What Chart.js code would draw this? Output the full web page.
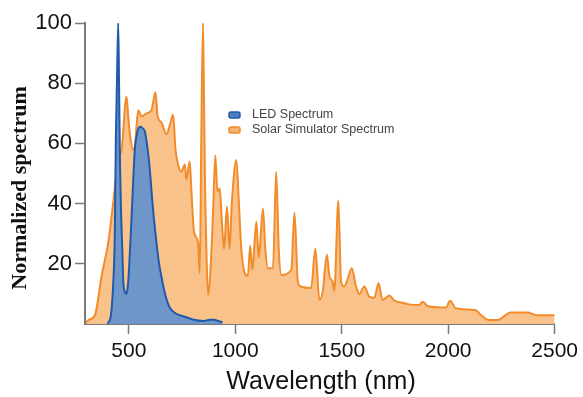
<!DOCTYPE html>
<html lang="en">
<head>
  <meta charset="UTF-8">
  <title>LED vs Solar Simulator Spectrum</title>
  <style>
    body {
      margin: 0;
      padding: 0;
      background-color: #fff;
    }
    .chart-box {
      width: 583px;
      height: 397px;
    }
  </style>
</head>
<body>
  <div class="chart-box">
    <canvas id="spectrumChart" width="583" height="397"></canvas>
  </div>

  <script src="https://cdn.jsdelivr.net/npm/chart.js"></script>
  <script>
    // LED spectrum (wavelength in nm, normalized value)
    const ledWl  = [400, 406, 416, 427, 434, 439, 444, 450, 454, 458, 463, 469, 474, 480, 489, 497, 505, 513, 520, 528, 535, 545, 555, 565, 575, 590, 600, 610, 625, 640, 655, 670, 692, 720, 760, 800, 850, 880, 900, 920, 940];
    const ledVal = [0, 0.8, 3, 14, 30, 62, 80, 100, 80, 55, 38, 25, 14, 11, 10, 14, 24, 36, 47, 58, 62, 65, 65.5, 65, 64, 57, 50, 41, 30, 21, 15, 10, 5.5, 3.5, 2.5, 1.5, 1, 1.4, 1.4, 1, 0.6];

    // Solar simulator spectrum
    const solarWl  = [300, 310, 341, 372, 403, 427, 450, 466, 489, 497, 505, 520, 528, 544, 560, 583, 606, 625, 635, 653, 677, 692, 708, 719, 731, 747, 763, 770, 786, 794, 806, 825, 833, 840, 848, 853, 858, 864, 872, 880, 895, 906, 916, 927, 937, 947, 961, 973, 984, 1005, 1017, 1028, 1044, 1059, 1070, 1080, 1099, 1110, 1130, 1141, 1153, 1177, 1192, 1204, 1216, 1263, 1278, 1294, 1310, 1356, 1376, 1395, 1411, 1430, 1442, 1457, 1465, 1484, 1497, 1512, 1528, 1547, 1567, 1583, 1606, 1630, 1653, 1673, 1692, 1723, 1747, 1794, 1809, 1864, 1880, 1903, 1989, 2009, 2036, 2130, 2153, 2192, 2231, 2294, 2372, 2418, 2500];
    const solarVal = [0.5, 1.3, 3, 16, 27, 40.6, 55, 58, 75.5, 69, 63, 58, 59, 71, 69, 70, 71, 77, 69, 67, 63, 66, 69.5, 58, 53, 50.6, 53, 48, 54, 44, 30.7, 27, 17, 60, 100, 75, 45, 25, 9.6, 14, 36, 56, 44, 45, 34, 25, 39, 25, 40.6, 54.5, 40, 25, 17, 16, 26, 18, 34, 22, 38.4, 25, 18.5, 18.5, 50.6, 25, 16.3, 18, 37, 14, 12.4, 12, 25, 8, 11, 23, 16, 14, 11, 41, 14, 12.5, 15, 18.5, 12.5, 10, 12.5, 9, 8.7, 13.5, 8, 9.5, 7.8, 6.9, 6.6, 6.3, 7.4, 6, 5.5, 7.7, 5.2, 4.6, 3, 1.3, 1.3, 3.8, 3.8, 2.9, 2.9];

    const xTickValues = [500, 1000, 1500, 2000, 2500];
    const yTickValues = [20, 40, 60, 80, 100];

    const seriesNames = ['LED Spectrum', 'Solar Simulator Spectrum'];

    const toPoints = (xs, ys) => xs.map((x, i) => ({ x: x, y: ys[i] }));

    // colours
    const blueLine = '#1f5aab';
    const blueFill = '#6f96c9';
    const orangeLine = '#f28c2a';
    const orangeFill = '#f9c28b';
    const axisGrey = '#7a7a7a';

    // axis titles and legend drawn by hand so they sit where the figure has them
    const labelsPlugin = {
      id: 'labelsPlugin',
      afterDraw(chart) {
        const c = chart.ctx;
        c.save();
        c.fillStyle = '#111';
        // y title
        c.font = 'bold 22px "Liberation Serif", "Times New Roman", serif';
        c.textAlign = 'center';
        c.textBaseline = 'middle';
        c.translate(20, 188);
        c.rotate(-Math.PI / 2);
        c.fillText('Normalized spectrum', 0, 0);
        c.restore();

        c.save();
        c.fillStyle = '#111';
        c.font = '25px "Liberation Sans", Arial, sans-serif';
        c.textAlign = 'center';
        c.textBaseline = 'alphabetic';
        c.fillText('Wavelength (nm)', 321, 389);

        // legend
        const items = [
          { name: seriesNames[0], line: blueLine, fill: '#4f7fc0', y: 115 },
          { name: seriesNames[1], line: orangeLine, fill: '#f7b070', y: 130 }
        ];
        c.font = '12.5px "Liberation Sans", Arial, sans-serif';
        c.textAlign = 'left';
        c.textBaseline = 'middle';
        items.forEach(it => {
          c.beginPath();
          c.roundRect(229, it.y - 3, 11, 6, 2);
          c.fillStyle = it.fill;
          c.fill();
          c.lineWidth = 1.5;
          c.strokeStyle = it.line;
          c.stroke();
          c.fillStyle = '#444';
          c.fillText(it.name, 252, it.y - 0.5);
        });
        c.restore();
      }
    };

    const ctx = document.getElementById('spectrumChart').getContext('2d');
    new Chart(ctx, {
      type: 'line',
      data: {
        datasets: [
          {
            label: seriesNames[0],
            data: toPoints(ledWl, ledVal),
            borderColor: blueLine,
            backgroundColor: blueFill,
            borderWidth: 2,
            pointRadius: 0,
            cubicInterpolationMode: 'monotone',
            fill: 'origin'
          },
          {
            label: seriesNames[1],
            data: toPoints(solarWl, solarVal),
            borderColor: orangeLine,
            backgroundColor: orangeFill,
            borderWidth: 2,
            pointRadius: 0,
            cubicInterpolationMode: 'monotone',
            fill: 'origin'
          }
        ]
      },
      options: {
        responsive: false,
        animation: false,
        layout: {
          padding: { left: 0, right: 27, top: 23, bottom: 0 }
        },
        plugins: {
          legend: { display: false },
          tooltip: { enabled: false }
        },
        scales: {
          x: {
            type: 'linear',
            min: 294,
            max: 2500,
            afterBuildTicks: (axis) => {
              axis.ticks = xTickValues.map(v => ({ value: v }));
            },
            afterFit: (axis) => { axis.height = 73; },
            border: { color: axisGrey, width: 2 },
            grid: { drawOnChartArea: false, tickLength: 10, tickColor: axisGrey, tickWidth: 1.5 },
            ticks: {
              color: '#111',
              padding: 5,
              maxRotation: 0,
              callback: (v) => String(v),
              font: { family: '"Liberation Sans", Arial, sans-serif', size: 21 }
            }
          },
          y: {
            min: 0,
            max: 100,
            afterBuildTicks: (axis) => {
              axis.ticks = yTickValues.map(v => ({ value: v }));
            },
            afterFit: (axis) => { axis.width = 85; },
            border: { color: axisGrey, width: 2 },
            grid: { drawOnChartArea: false, tickLength: 10, tickColor: axisGrey, tickWidth: 1.5 },
            ticks: {
              color: '#111',
              padding: 3,
              callback: (v) => String(v),
              font: { family: '"Liberation Sans", Arial, sans-serif', size: 22 }
            }
          }
        }
      },
      plugins: [labelsPlugin]
    });
  </script>
</body>
</html>
